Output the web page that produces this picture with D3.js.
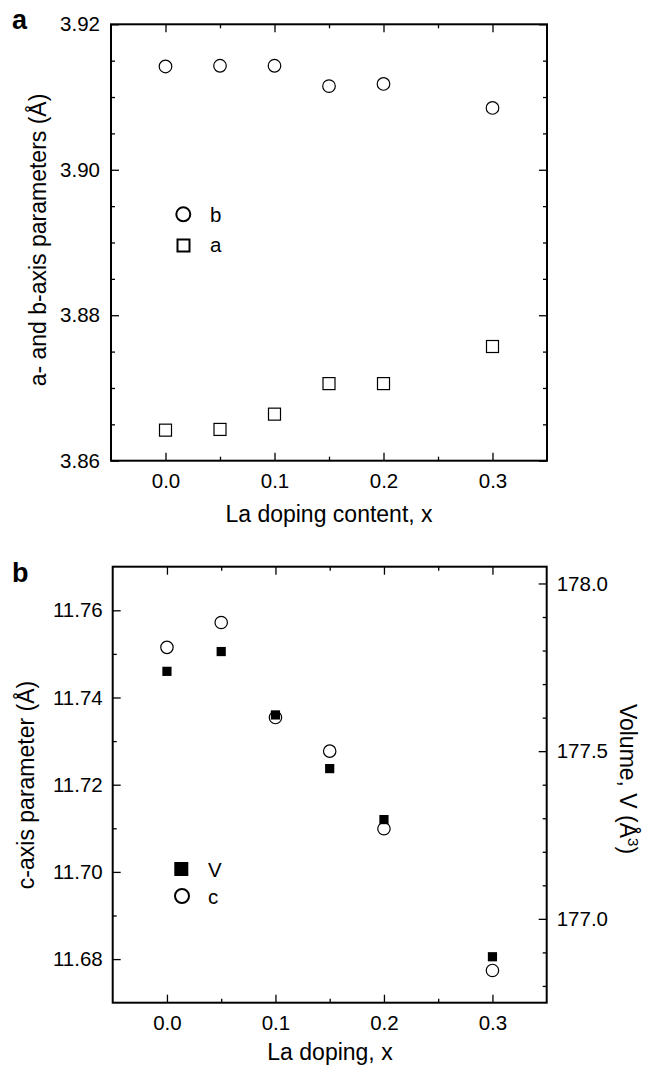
<!DOCTYPE html>
<html>
<head>
<meta charset="utf-8">
<script src="https://cdn.jsdelivr.net/npm/d3@7"></script>
<style>
  body { margin: 0; background: #fff; }
  text { font-family: "Liberation Sans", Arial, Helvetica, sans-serif; fill: #000; }
</style>
</head>
<body>
<div id="chart"></div>
<script>
// La doping content, x
var doping = [0, 0.05, 0.1, 0.15, 0.2, 0.3];

// panel a: lattice parameters (Å)
var bParam = [3.9142, 3.9143, 3.9143, 3.9115, 3.9118, 3.9085];
var aParam = [3.8642, 3.8643, 3.8664, 3.8706, 3.8706, 3.8757];

// panel b: c-axis (Å) and cell volume (Å^3)
var cParam = [11.7515, 11.7572, 11.7354, 11.7277, 11.7099, 11.6774];
var volume = [177.738, 177.797, 177.608, 177.448, 177.296, 176.887];

// ticks
var xTicks = [0, 0.1, 0.2, 0.3];
var xMinor = [0.05, 0.15, 0.25];
var abTicks = [3.86, 3.88, 3.90, 3.92];
var abMinor = [3.865, 3.87, 3.875, 3.885, 3.89, 3.895, 3.905, 3.91, 3.915];
var cTicks = [11.68, 11.70, 11.72, 11.74, 11.76];
var cMinor = [11.69, 11.71, 11.73, 11.75];
var vTicks = [177.0, 177.5, 178.0];
var vMinor = [176.8, 176.9, 177.1, 177.2, 177.3, 177.4, 177.6, 177.7, 177.8, 177.9];

var legendA = ["b", "a"];
var legendB = ["V", "c"];

var svg = d3.select("#chart")
  .append("svg")
  .attr("width", 650)
  .attr("height", 1066);

var tickFont = 20.5;
var labelFont = 23;

function drawAxis(gen, scale, values, len, fmt, pad, pos) {
  var ax = gen(scale)
    .tickValues(values)
    .tickSizeInner(-len)
    .tickSizeOuter(0)
    .tickPadding(pad)
    .tickFormat(fmt ? d3.format(fmt) : "");
  var g = svg.append("g")
    .attr("transform", pos)
    .call(ax)
    .attr("font-family", null)
    .attr("font-size", tickFont);
  g.select(".domain").remove();
  g.selectAll(".tick line").attr("stroke", "#000").attr("stroke-width", 1.3);
  g.selectAll(".tick text").attr("fill", "#000");
  return g;
}

function frame(x0, x1, y0, y1) {
  svg.append("rect")
    .attr("x", x0).attr("y", y0)
    .attr("width", x1 - x0).attr("height", y1 - y0)
    .attr("fill", "none")
    .attr("stroke", "#000")
    .attr("stroke-width", 2);
}

// ---------- panel a ----------
var xA = d3.scaleLinear().domain([-0.05, 0.35]).range([111, 547]);
var yA = d3.scaleLinear().domain([3.86, 3.92]).range([460.7, 24.3]);

drawAxis(d3.axisBottom, xA, xTicks, 8, ".1f", 13, "translate(0,460.7)");
drawAxis(d3.axisBottom, xA, xMinor, 4, null, 13, "translate(0,460.7)");
drawAxis(d3.axisTop, xA, xTicks, 8, null, 13, "translate(0,24.3)");
drawAxis(d3.axisTop, xA, xMinor, 4, null, 13, "translate(0,24.3)");
drawAxis(d3.axisLeft, yA, abTicks, 8, ".2f", 11, "translate(111,0)");
drawAxis(d3.axisLeft, yA, abMinor, 4, null, 11, "translate(111,0)");
drawAxis(d3.axisRight, yA, abTicks, 8, null, 11, "translate(547,0)");
drawAxis(d3.axisRight, yA, abMinor, 4, null, 11, "translate(547,0)");
frame(111, 547, 24.3, 460.7);

var ptsA = doping.map(function(x, i) { return {x: x, b: bParam[i], a: aParam[i]}; });

svg.append("g").selectAll("circle")
  .data(ptsA)
  .enter()
  .append("circle")
  .attr("cx", d => xA(d.x))
  .attr("cy", d => yA(d.b))
  .attr("r", 6.3)
  .attr("fill", "#fff")
  .attr("stroke", "#000")
  .attr("stroke-width", 1.2);

svg.append("g").selectAll("rect")
  .data(ptsA)
  .enter()
  .append("rect")
  .attr("x", d => xA(d.x) - 6)
  .attr("y", d => yA(d.a) - 6)
  .attr("width", 12)
  .attr("height", 12)
  .attr("fill", "#fff")
  .attr("stroke", "#000")
  .attr("stroke-width", 1.2);

// legend a
svg.append("circle")
  .attr("cx", 183.3).attr("cy", 214.3).attr("r", 7)
  .attr("fill", "none").attr("stroke", "#000").attr("stroke-width", 2);
svg.append("rect")
  .attr("x", 177.5).attr("y", 239.5).attr("width", 12).attr("height", 12)
  .attr("fill", "none").attr("stroke", "#000").attr("stroke-width", 2);
svg.append("g").selectAll("text")
  .data(legendA)
  .enter()
  .append("text")
  .attr("x", 210)
  .attr("y", (d, i) => 221.7 + i * 30.5)
  .attr("font-size", tickFont)
  .text(d => d);

// axis titles a
svg.append("text")
  .attr("transform", "translate(46,240) rotate(-90)")
  .attr("text-anchor", "middle")
  .attr("font-size", labelFont)
  .text("a- and b-axis parameters (Å)");

svg.append("text")
  .attr("x", 329)
  .attr("y", 521.7)
  .attr("text-anchor", "middle")
  .attr("font-size", labelFont)
  .text("La doping content, x");

svg.append("text")
  .attr("x", 12).attr("y", 29.3)
  .attr("font-size", 27).attr("font-weight", "bold")
  .text("a");

// ---------- panel b ----------
var xB = d3.scaleLinear().domain([-0.05, 0.35]).range([112.7, 546.7]);
var yC = d3.scaleLinear().domain([11.67, 11.77]).range([1002.7, 566.7]);
var yV = d3.scaleLinear().domain([176.75, 178.05]).range([1002.7, 566.7]);

drawAxis(d3.axisBottom, xB, xTicks, 8, ".1f", 12.5, "translate(0,1002.7)");
drawAxis(d3.axisBottom, xB, xMinor, 4, null, 12.5, "translate(0,1002.7)");
drawAxis(d3.axisTop, xB, xTicks, 8, null, 12.5, "translate(0,566.7)");
drawAxis(d3.axisTop, xB, xMinor, 4, null, 12.5, "translate(0,566.7)");
drawAxis(d3.axisLeft, yC, cTicks, 8, ".2f", 10, "translate(112.7,0)");
drawAxis(d3.axisLeft, yC, cMinor, 4, null, 10, "translate(112.7,0)");
drawAxis(d3.axisRight, yV, vTicks, 8, ".1f", 10, "translate(546.7,0)");
drawAxis(d3.axisRight, yV, vMinor, 4, null, 10, "translate(546.7,0)");
frame(112.7, 546.7, 566.7, 1002.7);

var ptsB = doping.map(function(x, i) { return {x: x, c: cParam[i], v: volume[i]}; });

svg.append("g").selectAll("circle")
  .data(ptsB)
  .enter()
  .append("circle")
  .attr("cx", d => xB(d.x))
  .attr("cy", d => yC(d.c))
  .attr("r", 6.2)
  .attr("fill", "#fff")
  .attr("stroke", "#000")
  .attr("stroke-width", 1.2);

svg.append("g").selectAll("rect")
  .data(ptsB)
  .enter()
  .append("rect")
  .attr("x", d => xB(d.x) - 4.6)
  .attr("y", d => yV(d.v) - 4.6)
  .attr("width", 9.2)
  .attr("height", 9.2)
  .attr("fill", "#000");

// legend b
svg.append("rect")
  .attr("x", 174.3).attr("y", 862).attr("width", 14).attr("height", 14)
  .attr("fill", "#000");
svg.append("circle")
  .attr("cx", 182).attr("cy", 896).attr("r", 7)
  .attr("fill", "none").attr("stroke", "#000").attr("stroke-width", 2);
svg.append("g").selectAll("text")
  .data(legendB)
  .enter()
  .append("text")
  .attr("x", 208)
  .attr("y", (d, i) => 877 + i * 26.5)
  .attr("font-size", tickFont)
  .text(d => d);

// axis titles b
svg.append("text")
  .attr("transform", "translate(33.5,785) rotate(-90)")
  .attr("text-anchor", "middle")
  .attr("font-size", labelFont)
  .text("c-axis parameter (Å)");

var vLabel = svg.append("text")
  .attr("transform", "translate(620,779) rotate(90)")
  .attr("text-anchor", "middle")
  .attr("font-size", labelFont);
vLabel.append("tspan").text("Volume, V (Å");
vLabel.append("tspan").attr("font-size", 15).attr("dy", -8).text("3");
vLabel.append("tspan").attr("dy", 8).text(")");

svg.append("text")
  .attr("x", 330)
  .attr("y", 1060)
  .attr("text-anchor", "middle")
  .attr("font-size", labelFont)
  .text("La doping, x");

svg.append("text")
  .attr("x", 12).attr("y", 581.7)
  .attr("font-size", 27).attr("font-weight", "bold")
  .text("b");
</script>
</body>
</html>
